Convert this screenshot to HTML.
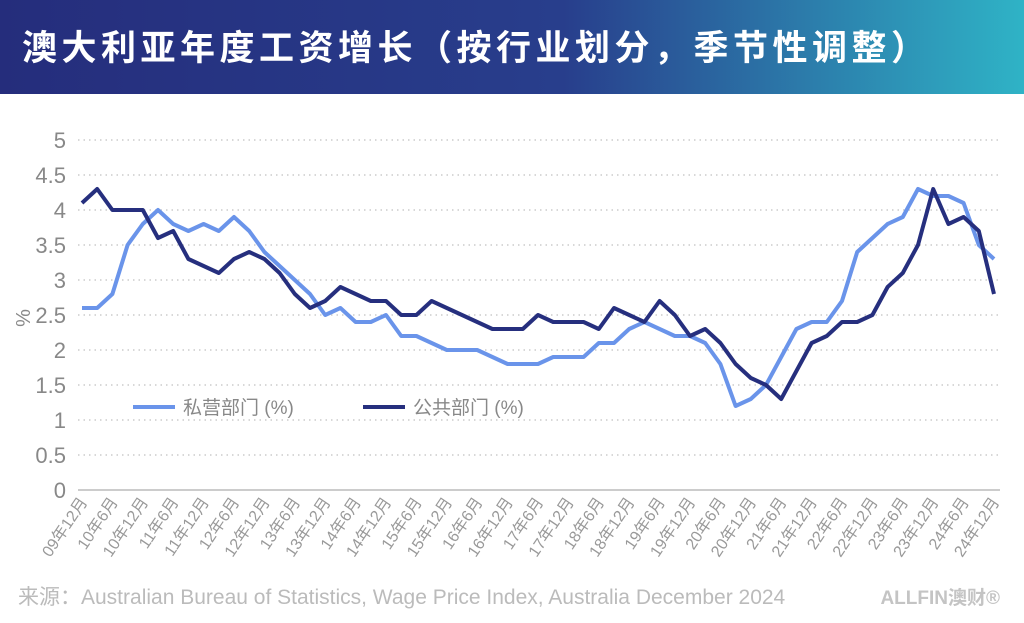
<!DOCTYPE html>
<html><head><meta charset="utf-8"><style>
body{margin:0;width:1024px;height:623px;overflow:hidden;background:#fff;font-family:"Liberation Sans","Noto Sans CJK SC",sans-serif}
#hdr{position:absolute;left:0;top:0;width:1024px;height:94px;background:linear-gradient(90deg,#252d7c 0%,#283e8c 55%,#2fb3c6 100%)}
#hdr h1{margin:0;position:absolute;left:22px;top:20px;color:#fff;font-size:35px;font-weight:bold;letter-spacing:4.5px;font-family:"Noto Sans CJK SC",sans-serif;white-space:nowrap}
</style></head><body>
<div id="hdr"><h1>澳大利亚年度工资增长（按行业划分，季节性调整）</h1></div>
<svg id="c" width="1024" height="623" style="position:absolute;left:0;top:0"></svg>
<script>
const yTicks=[0,0.5,1,1.5,2,2.5,3,3.5,4,4.5,5];
const yTickLabels=["0","0.5","1","1.5","2","2.5","3","3.5","4","4.5","5"];
const privateSeries=[2.6,2.6,2.8,3.5,3.8,4.0,3.8,3.7,3.8,3.7,3.9,3.7,3.4,3.2,3.0,2.8,2.5,2.6,2.4,2.4,2.5,2.2,2.2,2.1,2.0,2.0,2.0,1.9,1.8,1.8,1.8,1.9,1.9,1.9,2.1,2.1,2.3,2.4,2.3,2.2,2.2,2.1,1.8,1.2,1.3,1.5,1.9,2.3,2.4,2.4,2.7,3.4,3.6,3.8,3.9,4.3,4.2,4.2,4.1,3.5,3.3];
const publicSeries=[4.1,4.3,4.0,4.0,4.0,3.6,3.7,3.3,3.2,3.1,3.3,3.4,3.3,3.1,2.8,2.6,2.7,2.9,2.8,2.7,2.7,2.5,2.5,2.7,2.6,2.5,2.4,2.3,2.3,2.3,2.5,2.4,2.4,2.4,2.3,2.6,2.5,2.4,2.7,2.5,2.2,2.3,2.1,1.8,1.6,1.5,1.3,1.7,2.1,2.2,2.4,2.4,2.5,2.9,3.1,3.5,4.3,3.8,3.9,3.7,2.8];
const xLabels=["09年12月","10年6月","10年12月","11年6月","11年12月","12年6月","12年12月","13年6月","13年12月","14年6月","14年12月","15年6月","15年12月","16年6月","16年12月","17年6月","17年12月","18年6月","18年12月","19年6月","19年12月","20年6月","20年12月","21年6月","21年12月","22年6月","22年12月","23年6月","23年12月","24年6月","24年12月"];
const NS="http://www.w3.org/2000/svg",svg=document.getElementById('c');
const x0=82,x1=994,n=privateSeries.length;
const X=i=>x0+(x1-x0)*i/(n-1);
const Y=v=>490-v*70;
function mk(t,a,p){const e=document.createElementNS(NS,t);for(const k in a)e.setAttribute(k,a[k]);(p||svg).appendChild(e);return e;}
yTicks.forEach((v,i)=>{
  const g=mk('line',{x1:78,x2:1000,y1:Y(v),y2:Y(v),stroke:'#ccc','stroke-width':v===0?2:1.5,'stroke-dasharray':v===0?'':'1.5 4'});
  
  
  const t=mk('text',{x:66,y:Y(v)+8,'text-anchor':'end','font-size':22,fill:'#888'});
  t.textContent=yTickLabels[i];
  
  
});
const yt=mk('text',{x:0,y:0,transform:'translate(30,318) rotate(-90)','text-anchor':'middle','font-size':20,fill:'#888'});
yt.textContent='%';


xLabels.forEach((l,i)=>{
  const xx=X(i*2)+6;
  const t=mk('text',{x:0,y:0,transform:`translate(${xx},502) rotate(-56)`,'text-anchor':'end','font-size':16,fill:'#999'});
  t.textContent=l;
  
  
});
function line(s,c,name){
  const p=mk('polyline',{points:s.map((v,i)=>X(i)+','+Y(v)).join(' '),fill:'none',stroke:c,'stroke-width':4,'stroke-linejoin':'round'});
  
  
}
line(privateSeries,'#6a94ea','private-sector-line');
line(publicSeries,'#262f7e','public-sector-line');
[[133,'#6a94ea','私营部门 (%)','legend-private'],[363,'#262f7e','公共部门 (%)','legend-public']].forEach(d=>{
  const g=mk('g',{});
  
  
  mk('line',{x1:d[0],x2:d[0]+42,y1:407,y2:407,stroke:d[1],'stroke-width':4},g);
  const t=mk('text',{x:d[0]+50,y:414,'font-size':19,fill:'#888'},g);t.textContent=d[2];
});
const src=mk('text',{x:18,y:604,'font-size':21,fill:'#bbb'});
src.textContent='来源：Australian Bureau of Statistics, Wage Price Index, Australia December 2024';


const lg=mk('text',{x:1000,y:604,'text-anchor':'end','font-size':19,'font-weight':'bold',fill:'#c4c4c4'});
lg.textContent='ALLFIN澳财®';


</script>
</body></html>
